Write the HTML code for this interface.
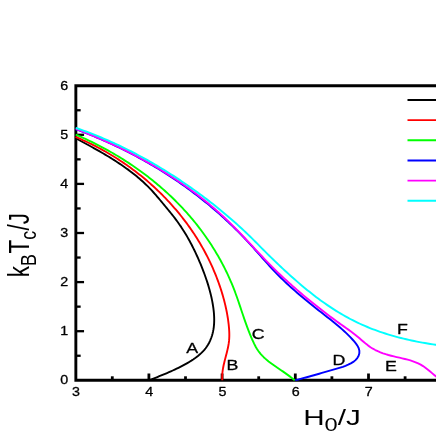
<!DOCTYPE html>
<html><head><meta charset="utf-8"><title>chart</title>
<style>html,body{margin:0;padding:0;background:#fff;width:436px;height:436px;overflow:hidden;font-family:"Liberation Sans",sans-serif}</style></head>
<body>
<svg width="436" height="436" viewBox="0 0 436 436" style="position:absolute;left:0;top:0" font-family="Liberation Sans, sans-serif" fill="#000">
<style>text.s{stroke:#000;stroke-width:0.28px;stroke-linejoin:round}</style>
<defs><filter id="soft" x="-10" y="-10" width="456" height="456" filterUnits="userSpaceOnUse"><feGaussianBlur stdDeviation="0.35"/></filter></defs>
<rect width="436" height="436" fill="#fff"/>
<g filter="url(#soft)">
<rect x="-10" y="-10" width="456" height="456" fill="#fff"/>
<g stroke="#000" stroke-width="2.9" fill="none" stroke-linecap="butt">
<path d="M446,85.7 L75.85,85.7 L75.85,380.3 L446,380.3" stroke-linejoin="miter"/>
<path d="M75.85,355.75 h4.8" stroke-width="2.3"/>
<path d="M75.85,331.20 h8.2" stroke-width="2.3"/>
<path d="M75.85,306.65 h4.8" stroke-width="2.3"/>
<path d="M75.85,282.10 h8.2" stroke-width="2.3"/>
<path d="M75.85,257.55 h4.8" stroke-width="2.3"/>
<path d="M75.85,233.00 h8.2" stroke-width="2.3"/>
<path d="M75.85,208.45 h4.8" stroke-width="2.3"/>
<path d="M75.85,183.90 h8.2" stroke-width="2.3"/>
<path d="M75.85,159.35 h4.8" stroke-width="2.3"/>
<path d="M75.85,134.80 h8.2" stroke-width="2.3"/>
<path d="M75.85,110.25 h4.8" stroke-width="2.3"/>
<path d="M112.30,380.3 v-4.0" stroke-width="2.8"/>
<path d="M148.90,380.3 v-6.8" stroke-width="2.8"/>
<path d="M185.50,380.3 v-4.0" stroke-width="2.8"/>
<path d="M222.10,380.3 v-6.8" stroke-width="2.8"/>
<path d="M258.70,380.3 v-4.0" stroke-width="2.8"/>
<path d="M295.30,380.3 v-6.8" stroke-width="2.8"/>
<path d="M331.90,380.3 v-4.0" stroke-width="2.8"/>
<path d="M368.50,380.3 v-6.8" stroke-width="2.8"/>
<path d="M405.10,380.3 v-4.0" stroke-width="2.8"/>
</g>
<g fill="none" stroke-width="1.9" stroke-linejoin="round" stroke-linecap="butt">
<path d="M75.71,138.29 L77.55,139.28 L79.40,140.26 L81.24,141.26 L83.09,142.25 L84.94,143.25 L86.79,144.25 L88.64,145.26 L90.48,146.27 L92.33,147.29 L94.17,148.31 L96.02,149.35 L97.86,150.38 L99.69,151.43 L101.52,152.49 L103.35,153.55 L105.17,154.62 L106.99,155.70 L108.79,156.80 L110.60,157.90 L112.39,159.01 L114.18,160.14 L115.96,161.28 L117.72,162.43 L119.48,163.59 L121.23,164.77 L122.97,165.97 L124.70,167.17 L126.41,168.40 L128.11,169.63 L129.80,170.89 L131.47,172.16 L133.13,173.45 L134.78,174.76 L136.41,176.08 L138.02,177.42 L139.62,178.79 L141.20,180.17 L142.76,181.57 L144.31,183.00 L145.83,184.44 L147.34,185.91 L148.82,187.40 L150.29,188.91 L151.73,190.45 L153.16,192.00 L154.57,193.57 L155.96,195.16 L157.34,196.76 L158.71,198.38 L160.06,199.99 L161.41,201.62 L162.76,203.25 L164.10,204.88 L165.44,206.50 L166.77,208.12 L168.11,209.74 L169.44,211.36 L170.76,212.99 L172.07,214.62 L173.36,216.26 L174.65,217.91 L175.91,219.57 L177.16,221.26 L178.38,222.96 L179.58,224.68 L180.77,226.41 L181.93,228.16 L183.07,229.93 L184.19,231.71 L185.30,233.51 L186.38,235.32 L187.44,237.14 L188.49,238.98 L189.51,240.83 L190.52,242.69 L191.51,244.56 L192.48,246.44 L193.43,248.33 L194.37,250.23 L195.28,252.14 L196.18,254.05 L197.07,255.98 L197.93,257.91 L198.78,259.84 L199.61,261.79 L200.43,263.73 L201.23,265.68 L202.01,267.64 L202.78,269.60 L203.53,271.56 L204.26,273.52 L204.98,275.49 L205.68,277.46 L206.36,279.44 L207.02,281.42 L207.66,283.41 L208.28,285.40 L208.88,287.40 L209.45,289.41 L209.99,291.43 L210.51,293.46 L211.00,295.50 L211.47,297.55 L211.91,299.61 L212.31,301.68 L212.69,303.76 L213.03,305.86 L213.34,307.97 L213.61,310.09 L213.83,312.21 L214.01,314.34 L214.13,316.47 L214.19,318.60 L214.19,320.72 L214.13,322.84 L214.00,324.95 L213.79,327.05 L213.50,329.13 L213.12,331.20 L212.66,333.24 L212.11,335.26 L211.47,337.25 L210.74,339.21 L209.92,341.12 L209.00,342.98 L207.99,344.79 L206.87,346.55 L205.66,348.24 L204.35,349.86 L202.94,351.41 L201.45,352.90 L199.88,354.32 L198.26,355.69 L196.60,357.00 L194.89,358.26 L193.15,359.48 L191.37,360.65 L189.58,361.77 L187.76,362.86 L185.92,363.91 L184.07,364.93 L182.21,365.92 L180.34,366.88 L178.46,367.82 L176.58,368.73 L174.69,369.62 L172.79,370.49 L170.88,371.35 L168.97,372.19 L167.05,373.01 L165.12,373.83 L163.19,374.64 L161.25,375.44 L159.30,376.23 L157.35,377.02 L155.39,377.81 L153.43,378.61 L151.46,379.40 L149.49,380.21" stroke="#000000"/>
<path d="M75.59,136.95 L77.39,137.70 L79.17,138.47 L80.96,139.24 L82.74,140.04 L84.51,140.84 L86.27,141.66 L88.04,142.49 L89.79,143.34 L91.54,144.19 L93.28,145.06 L95.02,145.95 L96.75,146.84 L98.48,147.75 L100.19,148.67 L101.91,149.60 L103.61,150.55 L105.31,151.51 L107.00,152.48 L108.69,153.46 L110.36,154.46 L112.04,155.47 L113.70,156.49 L115.35,157.52 L117.00,158.56 L118.64,159.62 L120.28,160.69 L121.90,161.76 L123.52,162.86 L125.13,163.96 L126.73,165.07 L128.33,166.20 L129.91,167.34 L131.49,168.49 L133.06,169.65 L134.62,170.82 L136.17,172.01 L137.72,173.20 L139.25,174.41 L140.78,175.62 L142.29,176.85 L143.80,178.09 L145.30,179.34 L146.79,180.60 L148.27,181.87 L149.74,183.16 L151.20,184.45 L152.65,185.75 L154.09,187.07 L155.52,188.39 L156.94,189.73 L158.35,191.07 L159.75,192.43 L161.14,193.80 L162.52,195.17 L163.89,196.56 L165.24,197.96 L166.59,199.36 L167.93,200.78 L169.25,202.21 L170.57,203.64 L171.87,205.09 L173.16,206.55 L174.45,208.01 L175.72,209.49 L176.97,210.97 L178.22,212.47 L179.45,213.97 L180.68,215.48 L181.89,217.01 L183.09,218.54 L184.27,220.08 L185.45,221.63 L186.61,223.19 L187.76,224.75 L188.90,226.33 L190.02,227.92 L191.13,229.51 L192.23,231.11 L193.32,232.73 L194.39,234.35 L195.45,235.98 L196.49,237.61 L197.53,239.26 L198.55,240.91 L199.55,242.58 L200.55,244.25 L201.52,245.93 L202.49,247.62 L203.44,249.31 L204.38,251.01 L205.30,252.73 L206.21,254.44 L207.10,256.17 L207.98,257.91 L208.84,259.65 L209.69,261.40 L210.53,263.16 L211.35,264.92 L212.16,266.70 L212.95,268.48 L213.72,270.26 L214.48,272.06 L215.23,273.86 L215.96,275.67 L216.67,277.49 L217.37,279.31 L218.05,281.14 L218.72,282.98 L219.37,284.82 L220.00,286.67 L220.62,288.53 L221.22,290.39 L221.80,292.27 L222.37,294.14 L222.92,296.03 L223.45,297.91 L223.97,299.81 L224.46,301.70 L224.93,303.61 L225.39,305.51 L225.82,307.42 L226.23,309.34 L226.62,311.25 L226.99,313.17 L227.33,315.10 L227.65,317.02 L227.95,318.95 L228.22,320.87 L228.47,322.80 L228.69,324.73 L228.89,326.66 L229.05,328.59 L229.18,330.52 L229.27,332.45 L229.31,334.38 L229.30,336.30 L229.23,338.22 L229.10,340.14 L228.90,342.05 L228.63,343.95 L228.31,345.86 L227.93,347.76 L227.51,349.65 L227.06,351.55 L226.59,353.44 L226.10,355.33 L225.60,357.23 L225.10,359.12 L224.62,361.02 L224.16,362.92 L223.72,364.82 L223.32,366.73 L222.97,368.65 L222.67,370.57 L222.44,372.50 L222.27,374.43 L222.19,376.38 L222.21,378.33 L222.31,380.29" stroke="#ff0000"/>
<path d="M75.71,134.59 L77.67,135.44 L79.63,136.30 L81.58,137.17 L83.53,138.06 L85.48,138.95 L87.42,139.86 L89.35,140.79 L91.28,141.72 L93.20,142.67 L95.12,143.62 L97.03,144.59 L98.94,145.58 L100.84,146.57 L102.74,147.58 L104.62,148.59 L106.51,149.62 L108.38,150.67 L110.25,151.72 L112.11,152.79 L113.97,153.86 L115.82,154.95 L117.66,156.05 L119.50,157.17 L121.32,158.29 L123.14,159.43 L124.96,160.58 L126.76,161.74 L128.56,162.91 L130.35,164.10 L132.13,165.30 L133.90,166.50 L135.66,167.73 L137.42,168.96 L139.17,170.20 L140.91,171.46 L142.64,172.72 L144.36,174.00 L146.07,175.30 L147.77,176.60 L149.46,177.91 L151.15,179.24 L152.82,180.58 L154.49,181.93 L156.14,183.29 L157.78,184.66 L159.42,186.05 L161.04,187.44 L162.66,188.85 L164.26,190.27 L165.85,191.70 L167.43,193.14 L169.00,194.60 L170.56,196.06 L172.11,197.54 L173.65,199.03 L175.17,200.53 L176.69,202.05 L178.19,203.57 L179.68,205.10 L181.16,206.65 L182.63,208.21 L184.08,209.78 L185.53,211.36 L186.96,212.96 L188.37,214.56 L189.78,216.18 L191.17,217.80 L192.55,219.44 L193.91,221.09 L195.27,222.76 L196.61,224.43 L197.93,226.11 L199.24,227.81 L200.54,229.51 L201.83,231.23 L203.10,232.96 L204.35,234.70 L205.59,236.45 L206.82,238.20 L208.04,239.97 L209.23,241.75 L210.42,243.54 L211.58,245.34 L212.74,247.15 L213.87,248.97 L215.00,250.80 L216.10,252.64 L217.19,254.48 L218.27,256.34 L219.33,258.21 L220.37,260.08 L221.40,261.96 L222.41,263.86 L223.40,265.76 L224.38,267.67 L225.34,269.59 L226.28,271.51 L227.21,273.45 L228.12,275.39 L229.01,277.34 L229.88,279.30 L230.74,281.27 L231.57,283.24 L232.39,285.22 L233.20,287.21 L233.98,289.21 L234.75,291.21 L235.49,293.22 L236.23,295.24 L236.95,297.26 L237.66,299.28 L238.36,301.31 L239.06,303.34 L239.74,305.37 L240.43,307.41 L241.11,309.44 L241.79,311.48 L242.47,313.51 L243.15,315.54 L243.84,317.57 L244.53,319.60 L245.23,321.62 L245.95,323.64 L246.67,325.65 L247.41,327.66 L248.16,329.66 L248.93,331.65 L249.71,333.63 L250.52,335.61 L251.35,337.57 L252.20,339.53 L253.08,341.47 L253.98,343.40 L254.93,345.30 L255.94,347.18 L257.02,349.00 L258.18,350.76 L259.44,352.47 L260.78,354.11 L262.20,355.68 L263.70,357.20 L265.28,358.65 L266.91,360.05 L268.60,361.41 L270.33,362.72 L272.09,364.00 L273.87,365.26 L275.66,366.51 L277.44,367.74 L279.23,368.96 L281.01,370.18 L282.79,371.40 L284.56,372.63 L286.31,373.87 L288.05,375.11 L289.76,376.38 L291.46,377.67 L293.12,378.98 L294.76,380.32" stroke="#00ff00"/>
<path d="M75.77,129.28 L78.36,130.23 L80.93,131.19 L83.51,132.17 L86.07,133.17 L88.64,134.17 L91.19,135.20 L93.75,136.24 L96.29,137.29 L98.83,138.36 L101.37,139.45 L103.90,140.55 L106.42,141.67 L108.94,142.80 L111.45,143.94 L113.95,145.11 L116.45,146.28 L118.94,147.47 L121.43,148.68 L123.90,149.90 L126.37,151.14 L128.84,152.39 L131.29,153.66 L133.74,154.94 L136.18,156.23 L138.61,157.55 L141.04,158.87 L143.46,160.21 L145.87,161.57 L148.27,162.94 L150.66,164.32 L153.04,165.72 L155.42,167.14 L157.78,168.56 L160.14,170.01 L162.49,171.46 L164.83,172.94 L167.16,174.42 L169.48,175.93 L171.79,177.44 L174.09,178.97 L176.38,180.52 L178.66,182.07 L180.93,183.65 L183.19,185.24 L185.44,186.84 L187.68,188.45 L189.91,190.08 L192.12,191.73 L194.33,193.39 L196.53,195.06 L198.71,196.75 L200.88,198.45 L203.05,200.16 L205.20,201.89 L207.34,203.63 L209.46,205.39 L211.58,207.16 L213.68,208.95 L215.77,210.74 L217.85,212.56 L219.92,214.38 L221.97,216.22 L224.01,218.07 L226.04,219.94 L228.06,221.82 L230.06,223.71 L232.05,225.62 L234.03,227.54 L236.00,229.47 L237.95,231.42 L239.89,233.38 L241.81,235.35 L243.73,237.34 L245.63,239.33 L247.51,241.35 L249.38,243.37 L251.24,245.41 L253.09,247.46 L254.93,249.52 L256.75,251.58 L258.58,253.65 L260.40,255.72 L262.22,257.79 L264.05,259.86 L265.88,261.93 L267.73,263.98 L269.58,266.03 L271.45,268.07 L273.33,270.08 L275.23,272.09 L277.16,274.07 L279.10,276.04 L281.07,277.98 L283.05,279.91 L285.05,281.83 L287.07,283.72 L289.10,285.60 L291.15,287.46 L293.21,289.31 L295.29,291.14 L297.37,292.96 L299.47,294.77 L301.58,296.56 L303.70,298.33 L305.83,300.10 L307.96,301.85 L310.10,303.59 L312.25,305.32 L314.40,307.03 L316.55,308.74 L318.71,310.44 L320.87,312.12 L323.03,313.80 L325.18,315.48 L327.34,317.16 L329.49,318.84 L331.63,320.54 L333.77,322.25 L335.89,323.99 L338.00,325.75 L340.10,327.55 L342.18,329.38 L344.24,331.25 L346.28,333.17 L348.30,335.14 L350.30,337.17 L352.27,339.25 L354.21,341.41 L356.01,343.63 L357.56,345.92 L358.72,348.29 L359.36,350.73 L359.34,353.24 L358.63,355.76 L357.31,358.09 L355.49,360.13 L353.29,361.89 L350.81,363.42 L348.16,364.72 L345.47,365.84 L342.82,366.80 L340.21,367.64 L337.63,368.41 L335.06,369.14 L332.46,369.89 L329.85,370.64 L327.21,371.41 L324.57,372.17 L321.91,372.95 L319.24,373.72 L316.56,374.48 L313.88,375.25 L311.20,376.00 L308.52,376.74 L305.84,377.47 L303.16,378.18 L300.50,378.88 L297.84,379.55 L295.20,380.19" stroke="#0000ff"/>
<path d="M75.84,128.91 L78.46,129.91 L81.07,130.92 L83.69,131.94 L86.30,132.98 L88.90,134.03 L91.50,135.09 L94.10,136.17 L96.70,137.26 L99.29,138.36 L101.87,139.48 L104.45,140.61 L107.03,141.76 L109.60,142.92 L112.17,144.10 L114.73,145.28 L117.29,146.49 L119.84,147.71 L122.38,148.94 L124.92,150.18 L127.45,151.44 L129.98,152.72 L132.49,154.01 L135.00,155.31 L137.51,156.63 L140.00,157.97 L142.49,159.31 L144.97,160.68 L147.44,162.06 L149.91,163.45 L152.36,164.86 L154.81,166.28 L157.25,167.72 L159.67,169.18 L162.09,170.64 L164.50,172.13 L166.90,173.63 L169.29,175.15 L171.66,176.68 L174.03,178.22 L176.39,179.79 L178.73,181.36 L181.07,182.96 L183.39,184.57 L185.70,186.19 L188.00,187.83 L190.29,189.49 L192.56,191.16 L194.83,192.85 L197.07,194.56 L199.31,196.28 L201.53,198.02 L203.74,199.78 L205.94,201.55 L208.12,203.33 L210.29,205.14 L212.44,206.96 L214.58,208.80 L216.71,210.65 L218.82,212.52 L220.91,214.41 L222.99,216.31 L225.05,218.24 L227.10,220.17 L229.13,222.13 L231.15,224.10 L233.15,226.09 L235.14,228.09 L237.12,230.10 L239.09,232.12 L241.05,234.15 L243.00,236.20 L244.94,238.24 L246.88,240.29 L248.82,242.35 L250.75,244.41 L252.69,246.47 L254.62,248.53 L256.55,250.60 L258.49,252.65 L260.43,254.71 L262.37,256.76 L264.32,258.80 L266.28,260.84 L268.24,262.86 L270.22,264.88 L272.20,266.89 L274.20,268.88 L276.21,270.86 L278.24,272.82 L280.28,274.77 L282.33,276.70 L284.40,278.63 L286.48,280.53 L288.56,282.43 L290.67,284.32 L292.78,286.19 L294.90,288.05 L297.03,289.90 L299.17,291.75 L301.32,293.58 L303.48,295.40 L305.65,297.21 L307.83,299.01 L310.02,300.80 L312.21,302.58 L314.41,304.35 L316.63,306.11 L318.85,307.86 L321.07,309.60 L323.31,311.33 L325.55,313.04 L327.80,314.75 L330.06,316.44 L332.32,318.13 L334.60,319.80 L336.87,321.46 L339.16,323.12 L341.45,324.76 L343.75,326.38 L346.05,328.01 L348.35,329.64 L350.63,331.28 L352.90,332.96 L355.14,334.69 L357.34,336.47 L359.52,338.31 L361.67,340.18 L363.82,342.04 L365.99,343.86 L368.21,345.60 L370.50,347.22 L372.87,348.69 L375.31,350.02 L377.82,351.22 L380.40,352.30 L383.02,353.28 L385.69,354.17 L388.40,354.98 L391.14,355.72 L393.89,356.41 L396.66,357.06 L399.43,357.69 L402.20,358.32 L404.95,358.98 L407.68,359.69 L410.38,360.46 L413.03,361.32 L415.64,362.29 L418.18,363.39 L420.66,364.65 L423.06,366.07 L425.38,367.68 L427.63,369.42 L429.85,371.25 L432.05,373.11 L434.24,374.96 L436.45,376.76 L438.70,378.45 L441.00,379.99" stroke="#ff00ff"/>
<path d="M75.73,127.85 L78.30,128.73 L80.87,129.64 L83.42,130.56 L85.97,131.50 L88.52,132.46 L91.06,133.43 L93.59,134.43 L96.11,135.43 L98.63,136.46 L101.14,137.50 L103.64,138.55 L106.14,139.63 L108.63,140.72 L111.12,141.82 L113.59,142.94 L116.06,144.08 L118.52,145.23 L120.98,146.39 L123.43,147.58 L125.87,148.77 L128.30,149.98 L130.73,151.21 L133.15,152.45 L135.56,153.71 L137.97,154.98 L140.37,156.26 L142.76,157.56 L145.14,158.87 L147.51,160.20 L149.88,161.54 L152.24,162.89 L154.60,164.26 L156.94,165.64 L159.28,167.03 L161.61,168.44 L163.93,169.86 L166.25,171.29 L168.55,172.74 L170.85,174.19 L173.15,175.67 L175.43,177.15 L177.70,178.64 L179.97,180.15 L182.23,181.67 L184.48,183.20 L186.73,184.74 L188.96,186.29 L191.19,187.86 L193.41,189.43 L195.62,191.02 L197.82,192.62 L200.02,194.23 L202.20,195.85 L204.38,197.48 L206.55,199.12 L208.71,200.77 L210.86,202.44 L213.00,204.11 L215.14,205.80 L217.26,207.50 L219.37,209.21 L221.48,210.93 L223.57,212.66 L225.66,214.40 L227.73,216.16 L229.79,217.93 L231.85,219.71 L233.89,221.50 L235.92,223.30 L237.95,225.12 L239.96,226.95 L241.95,228.79 L243.94,230.64 L245.92,232.51 L247.88,234.39 L249.84,236.28 L251.78,238.18 L253.71,240.10 L255.63,242.02 L257.55,243.95 L259.46,245.88 L261.38,247.81 L263.29,249.73 L265.21,251.65 L267.13,253.57 L269.06,255.47 L270.99,257.37 L272.93,259.26 L274.87,261.15 L276.83,263.02 L278.79,264.89 L280.76,266.75 L282.75,268.60 L284.74,270.45 L286.74,272.29 L288.75,274.12 L290.78,275.95 L292.81,277.76 L294.86,279.57 L296.92,281.36 L298.98,283.15 L301.07,284.92 L303.16,286.67 L305.27,288.42 L307.38,290.14 L309.51,291.86 L311.66,293.55 L313.81,295.23 L315.98,296.89 L318.17,298.52 L320.36,300.14 L322.57,301.74 L324.80,303.32 L327.04,304.87 L329.29,306.40 L331.55,307.91 L333.84,309.39 L336.13,310.84 L338.44,312.27 L340.77,313.67 L343.11,315.04 L345.47,316.38 L347.84,317.69 L350.23,318.97 L352.63,320.21 L355.05,321.43 L357.49,322.61 L359.94,323.76 L362.41,324.87 L364.89,325.95 L367.39,327.00 L369.90,328.02 L372.42,329.01 L374.96,329.97 L377.51,330.90 L380.07,331.79 L382.64,332.66 L385.23,333.51 L387.82,334.32 L390.42,335.10 L393.04,335.86 L395.66,336.60 L398.29,337.30 L400.92,337.98 L403.57,338.64 L406.22,339.27 L408.88,339.88 L411.54,340.46 L414.21,341.02 L416.88,341.56 L419.56,342.08 L422.24,342.57 L424.92,343.05 L427.61,343.51 L430.29,343.95 L432.98,344.38 L435.67,344.80 L438.35,345.22 L441.03,345.62" stroke="#00ffff"/>
<path d="M407.5,100.00 H446" stroke="#000000"/>
<path d="M407.5,120.15 H446" stroke="#ff0000"/>
<path d="M407.5,140.30 H446" stroke="#00ff00"/>
<path d="M407.5,160.45 H446" stroke="#0000ff"/>
<path d="M407.5,180.60 H446" stroke="#ff00ff"/>
<path d="M407.5,200.75 H446" stroke="#00ffff"/>
</g>
<text class="s" transform="translate(68.2,384.1) scale(1.2,1)" font-size="11.9" text-anchor="end" >0</text>
<text class="s" transform="translate(68.2,335.0) scale(1.2,1)" font-size="11.9" text-anchor="end" >1</text>
<text class="s" transform="translate(68.2,285.90000000000003) scale(1.2,1)" font-size="11.9" text-anchor="end" >2</text>
<text class="s" transform="translate(68.2,236.8) scale(1.2,1)" font-size="11.9" text-anchor="end" >3</text>
<text class="s" transform="translate(68.2,187.70000000000002) scale(1.2,1)" font-size="11.9" text-anchor="end" >4</text>
<text class="s" transform="translate(68.2,138.60000000000002) scale(1.2,1)" font-size="11.9" text-anchor="end" >5</text>
<text class="s" transform="translate(68.2,89.49999999999999) scale(1.2,1)" font-size="11.9" text-anchor="end" >6</text>
<text class="s" transform="translate(76.0,395.5) scale(1.2,1)" font-size="11.9" text-anchor="middle" >3</text>
<text class="s" transform="translate(149.20000000000002,395.5) scale(1.2,1)" font-size="11.9" text-anchor="middle" >4</text>
<text class="s" transform="translate(222.40000000000003,395.5) scale(1.2,1)" font-size="11.9" text-anchor="middle" >5</text>
<text class="s" transform="translate(295.6,395.5) scale(1.2,1)" font-size="11.9" text-anchor="middle" >6</text>
<text class="s" transform="translate(368.8,395.5) scale(1.2,1)" font-size="11.9" text-anchor="middle" >7</text>
<text class="s" transform="translate(186.30,353.30) scale(1.29,1)" font-size="13.8">A</text>
<text class="s" transform="translate(226.60,369.60) scale(1.29,1)" font-size="13.8">B</text>
<text class="s" transform="translate(251.70,339.30) scale(1.29,1)" font-size="13.8">C</text>
<text class="s" transform="translate(332.60,364.60) scale(1.29,1)" font-size="13.8">D</text>
<text class="s" transform="translate(385.00,370.60) scale(1.29,1)" font-size="13.8">E</text>
<text class="s" transform="translate(396.90,333.50) scale(1.29,1)" font-size="13.8">F</text>
<text transform="translate(303.2,425.4) scale(1.33,1)" font-size="22.3">H<tspan font-size="17.8" dy="5.8">0</tspan><tspan dy="-5.8">/J</tspan></text>
<text transform="translate(28.7,277.3) scale(1.283,1) rotate(-90)" font-size="22.5">k<tspan font-size="17.8" dy="5.9">B</tspan><tspan dy="-5.9" dx="0.6">T</tspan><tspan font-size="17.8" dy="5.9">c</tspan><tspan dy="-5.9" dx="0.4">/J</tspan></text>
</g>
</svg>
</body></html>
